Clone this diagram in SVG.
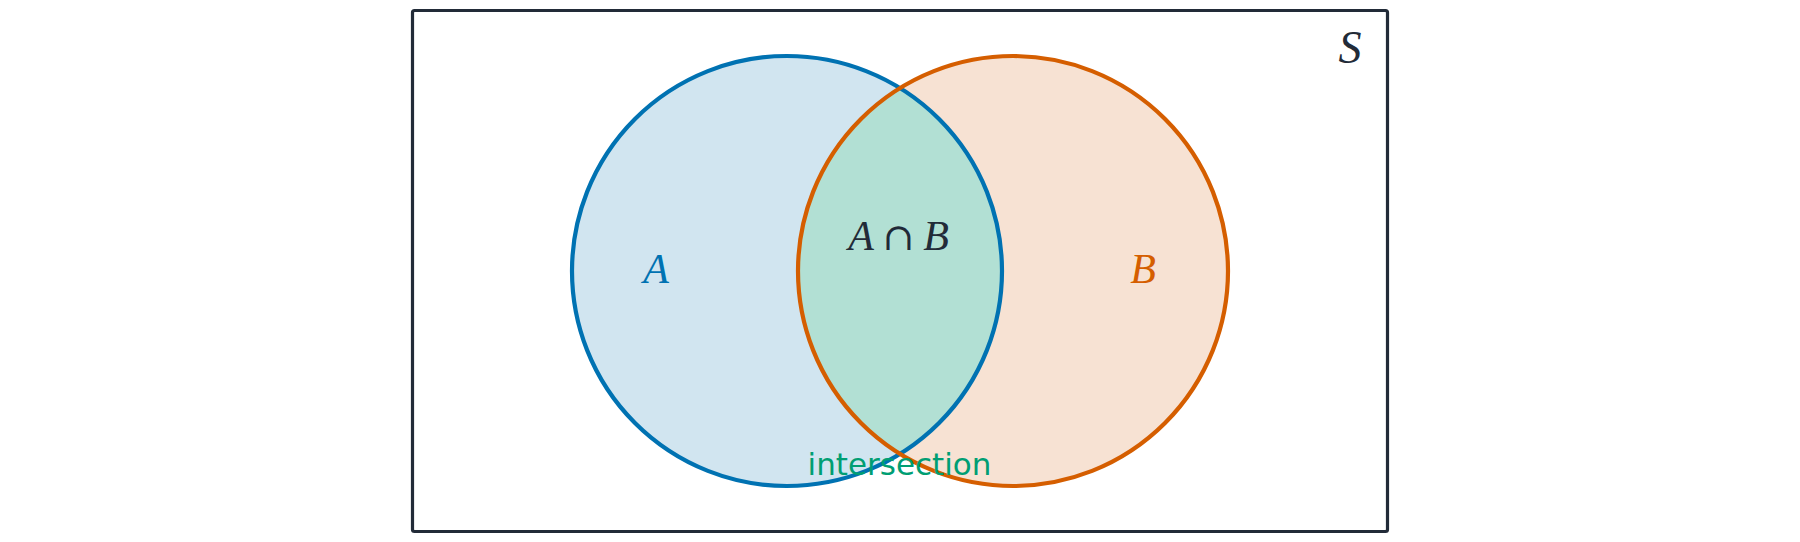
<svg xmlns="http://www.w3.org/2000/svg" width="1800" height="542" viewBox="0 0 1800 542">
<style>
.math{font-family:"Liberation Serif","DejaVu Serif",serif;font-style:italic;font-size:42px;text-anchor:middle}
.op{font-family:"DejaVu Serif","Liberation Serif",serif;font-size:38px;text-anchor:middle;fill:#1f2937}
.lbl{font-family:"DejaVu Sans",sans-serif;font-size:31px;fill:#009E73;text-anchor:middle}
</style>
<rect width="1800" height="542" fill="#ffffff"/>
<g id="universe">
<rect x="412.5" y="10.5" width="975" height="521" rx="2" fill="none" stroke="#222b38" stroke-width="3.2"/>
<text class="math" x="1350" y="63" fill="#222b38" style="font-size:46px">S</text>
</g>
<g id="setA-fill"><circle cx="787" cy="271" r="215" fill="#d1e5f0"/></g>
<g id="setB-fill"><circle cx="1013" cy="271" r="215" fill="#f7e2d3"/></g>
<g id="intersection">
<path d="M900 88.1 A215 215 0 0 1 900 453.9 A215 215 0 0 1 900 88.1 Z" fill="#b2e0d4"/>
</g>
<g id="setA">
<circle cx="787" cy="271" r="215" fill="none" stroke="#0072B2" stroke-width="4.2"/>
<text class="math" x="656" y="283" fill="#0072B2">A</text>
</g>
<g id="setB">
<circle cx="1013" cy="271" r="215" fill="none" stroke="#D55E00" stroke-width="4.2"/>
<text class="math" x="1143" y="283" fill="#D55E00">B</text>
</g>
<g id="intersection-labels">
<text class="math" x="861" y="250" fill="#222b38">A</text>
<text class="op" x="898.5" y="250">∩</text>
<text class="math" x="936" y="250" fill="#222b38">B</text>
<text class="lbl" x="899.5" y="475">intersection</text>
</g>
</svg>
